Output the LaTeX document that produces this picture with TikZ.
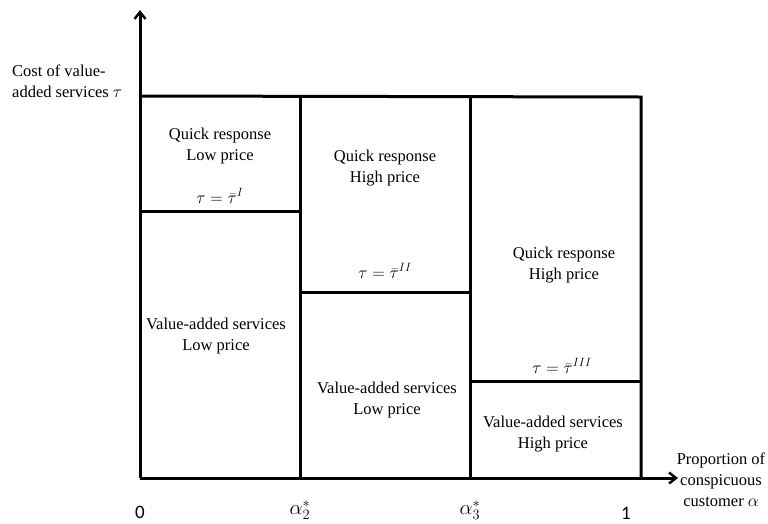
\documentclass[tikz,border=0pt]{standalone}
\usepackage{fontspec}
\setmainfont{Liberation Serif}
\newfontfamily\tickfont{Carlito}
\usetikzlibrary{arrows.meta}
\begin{document}
\begin{tikzpicture}[x=1pt,y=-1pt,
  grid/.style={line width=3pt},
  axis/.style={line width=3pt,-{Straight Barb[length=7pt,width=11pt,line width=2.4pt]}},
  lbl/.style={font=\fontsize{16.5}{21}\selectfont,align=center,inner sep=0pt},
  tick/.style={font=\tickfont\fontsize{19}{22}\selectfont,inner sep=0pt},
  mlbl/.style={font=\fontsize{21}{24}\selectfont,inner sep=0pt}]
\useasboundingbox (0,0) rectangle (768,523);
% coordinates
\coordinate (O) at (140,478);
\coordinate (Ytip) at (140,10);
\coordinate (Xtip) at (678,478);
\coordinate (TL) at (140,96);
\coordinate (TR) at (641,97);
\coordinate (BR) at (641,478);
\coordinate (A2t) at (300,96);
\coordinate (A2b) at (300,478);
\coordinate (A3t) at (470,97);
\coordinate (A3b) at (470,478);
\coordinate (H1l) at (140,211);
\coordinate (H1r) at (300,211);
\coordinate (H2l) at (300,292);
\coordinate (H2r) at (470,292);
\coordinate (H3l) at (470,381);
\coordinate (H3r) at (641,381);
% axes
\draw[axis] (O) -- (Ytip);
\draw[axis] (O) -- (Xtip);
% grid
\draw[grid] (TL) -- (TR) -- (BR);
\draw[grid] (A2t) -- (A2b);
\draw[grid] (A3t) -- (A3b);
\draw[grid] (H1l) -- (H1r);
\draw[grid] (H2l) -- (H2r);
\draw[grid] (H3l) -- (H3r);
% region labels
\node[lbl] (r1) at (220,146) {Quick response\\Low price};
\node[lbl] (t1) at (220,196) {$\tau=\bar{\tau}^{I}$};
\node[lbl] (r2) at (385,168) {Quick response\\High price};
\node[lbl] (t2) at (385,271) {$\tau=\bar{\tau}^{II}$};
\node[lbl] (r3) at (564,265) {Quick response\\High price};
\node[lbl] (t3) at (562,366) {$\tau=\bar{\tau}^{III}$};
\node[lbl] (r4) at (216,336) {Value-added services\\Low price};
\node[lbl] (r5) at (387,400) {Value-added services\\Low price};
\node[lbl] (r6) at (553,434) {Value-added services\\High price};
% axis labels
\node[lbl,align=left,anchor=west] (yl) at (12,81) {Cost of value-\\added services $\tau$};
\node[lbl,align=center] (xl) at (721,480) {Proportion of\\conspicuous\\customer $\alpha$};
% ticks
\node[tick] (k0) at (140,512) {0};
\node[mlbl] (k2) at (300,510) {$\alpha_2^*$};
\node[mlbl] (k3) at (470,510) {$\alpha_3^*$};
\node[tick] (k1) at (626,513) {1};
\end{tikzpicture}
\end{document}
